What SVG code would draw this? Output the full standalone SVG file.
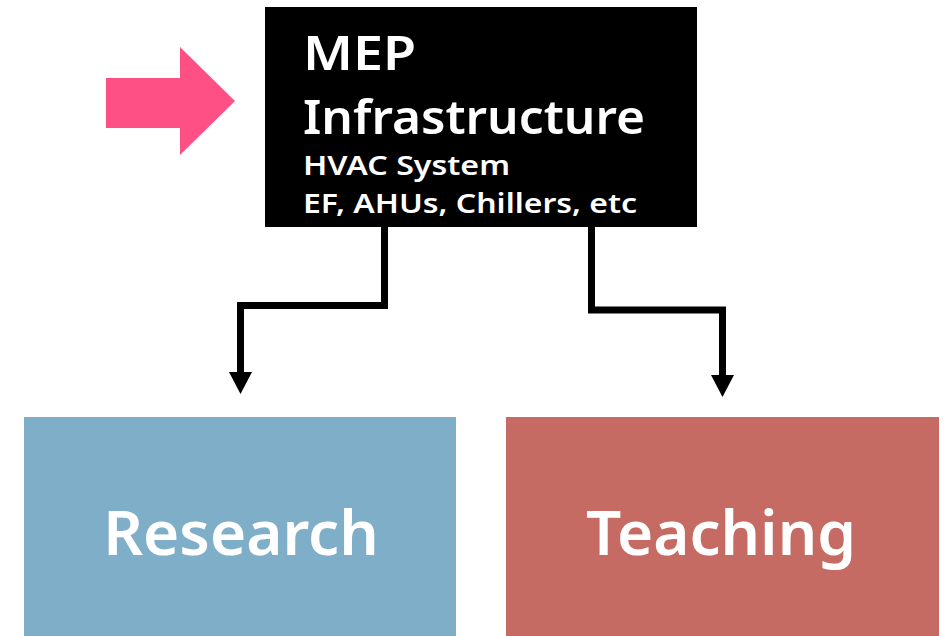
<svg xmlns="http://www.w3.org/2000/svg" width="947" height="636" viewBox="0 0 947 636">
<style>
.t{font-family:"Noto Sans","Open Sans",sans-serif;fill:#fff;font-weight:600}
.c{fill:none;stroke:#000;stroke-width:7;stroke-linejoin:miter}
</style>
<rect width="947" height="636" fill="#fff"/>
<g id="input-arrow">
<polygon points="106,78 180,78 180,47 235,101 180,155 180,128 106,128" fill="#FF5086"/>
</g>
<g id="mep">
<rect x="265" y="7" width="432" height="220" fill="#000"/>
<text class="t" x="303" y="70" font-size="47" textLength="113" lengthAdjust="spacingAndGlyphs">MEP</text>
<text class="t" x="303" y="134" font-size="47" textLength="342" lengthAdjust="spacingAndGlyphs">Infrastructure</text>
<text class="t" x="303" y="175" font-size="27" textLength="207" lengthAdjust="spacingAndGlyphs">HVAC System</text>
<text class="t" x="303" y="213" font-size="27" textLength="334" lengthAdjust="spacingAndGlyphs">EF, AHUs, Chillers, etc</text>
</g>
<g id="research">
<rect x="24" y="417" width="432" height="219" fill="#7FAFC8"/>
<text class="t" x="241" y="555" font-size="62" text-anchor="middle">Research</text>
</g>
<g id="teaching">
<rect x="506" y="417" width="433" height="219" fill="#C66B63"/>
<text class="t" x="721" y="555" font-size="62" text-anchor="middle">Teaching</text>
</g>
<g id="connectors">
<path class="c" d="M384.5,227 V305.5 H240.5 V372"/>
<polygon points="229,372 252,372 240.5,394" fill="#000"/>
<path class="c" d="M591.5,227 V310 H722.5 V375"/>
<polygon points="711,375 734,375 722.5,397" fill="#000"/>
</g>
</svg>
